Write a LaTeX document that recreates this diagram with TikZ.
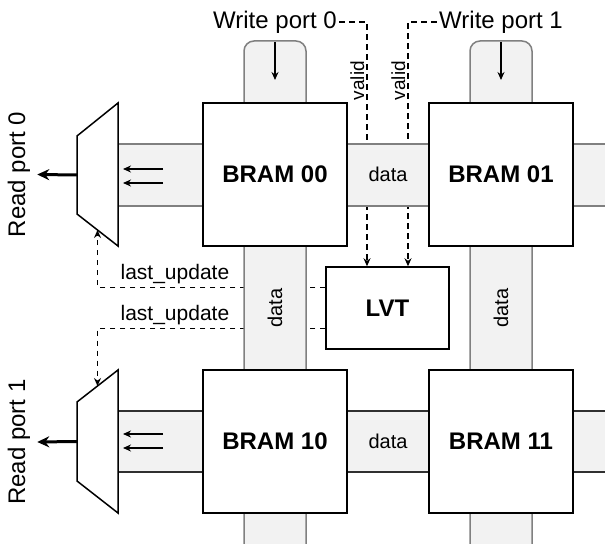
\documentclass[tikz,border=0pt]{standalone}
\usepackage{fontspec}
\setmainfont{Liberation Sans}
\usetikzlibrary{arrows.meta,calc}

\definecolor{busfill}{HTML}{F2F2F2}
\definecolor{busline}{HTML}{808080}
\definecolor{busdark}{HTML}{303030}

\pgfdeclarelayer{sig}
\pgfdeclarelayer{bus}
\pgfsetlayers{sig,bus,main}

\begin{document}
\begin{tikzpicture}[
  x=0.5pt, y=-0.5pt,
  >=Stealth,
  every node/.style={font=\fontsize{12}{14}\selectfont},
  bram/.style={draw,line width=0.75pt,fill=white,minimum width=72pt,minimum height=71.5pt,
    font=\fontsize{12}{14}\selectfont\bfseries},
  bus/.style={fill=busfill,draw=busline,line width=0.75pt},
  mux/.style={draw,line width=0.75pt,fill=white,line join=miter},
  sig/.style={-{Stealth[length=4pt,width=3.5pt]},line width=0.7pt,dash pattern=on 2.8pt off 2.2pt},
  small/.style={font=\fontsize{10}{12}\selectfont},
  flow/.style={-{Stealth[length=4pt,width=3.5pt]},line width=0.65pt},
  outarrow/.style={-{Stealth[length=6pt,width=5.5pt]},line width=1.5pt}
]
  \path[use as bounding box] (0,0) rectangle (605,544);

  \node[bram] (b00) at (275,174.5) {BRAM 00};
  \node[bram] (b01) at (501,174.5) {BRAM 01};
  \node[bram] (b10) at (275,441.5) {BRAM 10};
  \node[bram] (b11) at (501,441.5) {BRAM 11};
  \node[bram,minimum width=61.5pt,minimum height=41pt] (lvt) at (387.5,308) {LVT};

  \node[inner sep=1pt] (wp0) at (275,22) {Write port 0};
  \node[inner sep=1pt] (wp1) at (501,22) {Write port 1};
  \node[rotate=90] (rp0) at (19,174.5) {Read port 0};
  \node[rotate=90] (rp1) at (19,442) {Read port 1};

  \draw[mux] (118,103) -- (118,246) -- (77,214) -- (77,136) -- cycle;
  \draw[mux] (118,370) -- (118,513) -- (77,481) -- (77,402) -- cycle;
  \coordinate (m0out) at (77,175);
  \coordinate (m1out) at (77,441.5);
  \coordinate (m0sel) at (97.5,230);
  \coordinate (m1sel) at (97.5,386);

  \draw[outarrow] (m0out) -- (rp0.south);
  \draw[outarrow] (m1out) -- (rp1.south);

  \foreach \y in {169,183,434,448}
    \draw[flow] (163,\y) -- (123,\y);
  \foreach \x in {275,501}
    \draw[flow] (\x,42) -- (\x,80);

  \begin{pgfonlayer}{bus}
    \filldraw[bus] (118,144) rectangle (640,206);
    \filldraw[bus,draw=busdark] (118,411) rectangle (640,472);
    \foreach \x in {244,470}
      \filldraw[bus,rounded corners=5pt] (\x,580) -- (\x,41) -- (\x+62,41) -- (\x+62,580);
  \end{pgfonlayer}

  \node[small] (d0) at (388,174.5) {data};
  \node[small] (d1) at (388,441.5) {data};
  \node[small,rotate=90] (d2) at (275,308) {data};
  \node[small,rotate=90] (d3) at (501,308) {data};

  \begin{pgfonlayer}{sig}
    \draw[sig] (wp0.east) -| ($(lvt.north)+(-20.5,0)$)
      node[pos=0.62,rotate=90,anchor=south,inner sep=1pt,font=\fontsize{9.5}{11}\selectfont] {valid};
    \draw[sig] (wp1.west) -| ($(lvt.north)+(20.5,0)$)
      node[pos=0.62,rotate=90,anchor=south,inner sep=1pt,font=\fontsize{9.5}{11}\selectfont] {valid};
    \draw[sig] ($(lvt.west)+(0,-20.5)$) -| (m0sel)
      node[pos=0.33,above,inner sep=1.5pt,font=\fontsize{10.5}{12}\selectfont] {last\_update};
    \draw[sig] ($(lvt.west)+(0,20.5)$) -| (m1sel)
      node[pos=0.33,above,inner sep=1.5pt,font=\fontsize{10.5}{12}\selectfont] {last\_update};
  \end{pgfonlayer}
\end{tikzpicture}
\end{document}
